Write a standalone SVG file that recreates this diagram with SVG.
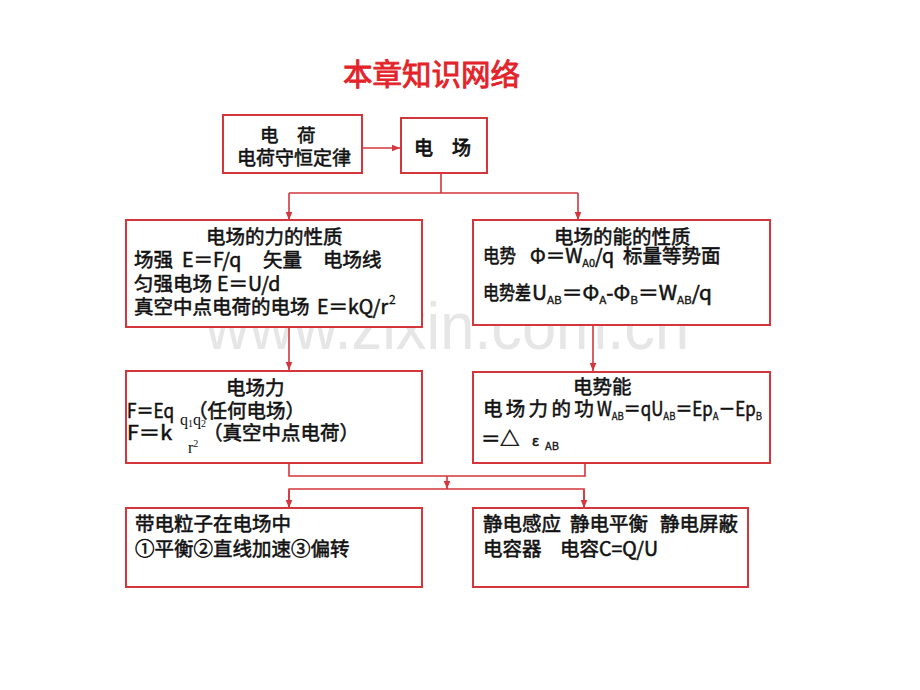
<svg xmlns="http://www.w3.org/2000/svg" width="920" height="690" viewBox="0 0 920 690">
<style>
.box{fill:#ffffff;stroke:#d4363b;stroke-width:2}
.ln{fill:none;stroke:#d4363b;stroke-width:1.6}
.t{font-family:"Noto Sans CJK SC","Noto Sans",sans-serif;font-size:19.5px;fill:#111111;stroke:#111111;stroke-width:0.55}
.sub{font-size:11px;stroke-width:0.3}
.ser{font-family:"Liberation Serif",serif;font-size:16px;fill:#111111}
.title{font-family:"Noto Sans CJK SC",sans-serif;font-size:29.5px;fill:#e3232a;stroke:#e3232a;stroke-width:0.9}
.wm{font-family:"Liberation Sans",Arial,sans-serif;font-size:66px;fill:#e6e6e6}
</style>
<defs>
<marker id="ah" markerUnits="userSpaceOnUse" markerWidth="9" markerHeight="9" viewBox="0 0 9 9" refX="8.5" refY="4.5" orient="auto">
<path d="M0,1 L8.5,4.5 L0,8 Z" fill="#d4363b"/>
</marker>
</defs>
<rect width="920" height="690" fill="#ffffff"/>
<text class="wm" x="205" y="349" textLength="484" lengthAdjust="spacingAndGlyphs">www.zixin.com.cn</text>
<text class="title" x="343" y="85">本章知识网络</text>

<g id="connectors">
<path class="ln" d="M362,148 H400" marker-end="url(#ah)"/>
<path class="ln" d="M441,173 V193 M289,193 H578"/>
<path class="ln" d="M289,193 V220" marker-end="url(#ah)"/>
<path class="ln" d="M578,193 V220" marker-end="url(#ah)"/>
<path class="ln" d="M289,327 V370" marker-end="url(#ah)"/>
<path class="ln" d="M593,325 V371" marker-end="url(#ah)"/>
<path class="ln" d="M289,463 V476 H585 V463"/>
<path class="ln" d="M447,476 V489" marker-end="url(#ah)"/>
<path class="ln" d="M289,508 V489 H584 V508"/>
<path class="ln" d="M289,490 V508" marker-end="url(#ah)"/>
<path class="ln" d="M584,490 V508" marker-end="url(#ah)"/>
</g>

<g id="charge">
<rect class="box" x="223" y="115" width="139" height="58"/>
<text class="t" x="260" y="142" style="font-size:18.5px">电　荷</text>
<text class="t" x="237" y="165" style="font-size:19px">电荷守恒定律</text>
</g>

<g id="field">
<rect class="box" x="401" y="118" width="86" height="55"/>
<text class="t" x="414" y="155" style="font-size:19px;stroke-width:0.8">电　场</text>
</g>

<g id="force-property">
<rect class="box" x="126" y="220" width="296" height="107"/>
<text class="t" x="206" y="244">电场的力的性质</text>
<text class="t" y="267"><tspan x="134">场强</tspan><tspan x="182">E＝F/q</tspan><tspan x="263">矢量</tspan><tspan x="323">电场线</tspan></text>
<text class="t" y="291"><tspan x="134">匀强电场</tspan><tspan x="217">E＝U/d</tspan></text>
<text class="t" y="314"><tspan x="134">真空中点电荷的电场</tspan><tspan x="317">E＝kQ/r</tspan><tspan x="389" y="304" style="font-size:12px;stroke-width:0.3">2</tspan></text>
</g>

<g id="energy-property">
<rect class="box" x="473" y="220" width="297" height="105"/>
<text class="t" x="554" y="244">电场的能的性质</text>
<text class="t" x="483" y="263" textLength="33" lengthAdjust="spacingAndGlyphs">电势</text>
<text class="t" y="263"><tspan x="530">Φ＝W</tspan><tspan class="sub" dy="4">A0</tspan><tspan dy="-4">/q</tspan><tspan x="623">标量等势面</tspan></text>
<text class="t" x="483" y="300" textLength="48" lengthAdjust="spacingAndGlyphs">电势差</text>
<text class="t" x="532" y="300" textLength="180" lengthAdjust="spacingAndGlyphs">U<tspan class="sub" dy="4">AB</tspan><tspan dy="-4">＝Φ</tspan><tspan class="sub" dy="4">A</tspan><tspan dy="-4">-Φ</tspan><tspan class="sub" dy="4">B</tspan><tspan dy="-4">＝W</tspan><tspan class="sub" dy="4">AB</tspan><tspan dy="-4">/q</tspan></text>
</g>

<g id="electric-force">
<rect class="box" x="126" y="371" width="296" height="92"/>
<text class="t" x="226" y="395">电场力</text>
<text class="t" x="127" y="418" textLength="47" lengthAdjust="spacingAndGlyphs">F＝Eq</text>
<text class="t" x="188" y="418">（任何电场）</text>
<text class="t" x="127" y="440" textLength="45" lengthAdjust="spacingAndGlyphs">F＝k</text>
<text class="t" x="203" y="440">（真空中点电荷）</text>
<text class="ser" x="180" y="425">q<tspan font-size="10" dy="2">1</tspan><tspan dy="-2">q</tspan><tspan font-size="10" dy="2">2</tspan></text>
<text class="ser" x="188" y="453">r<tspan font-size="10" dy="-6">2</tspan></text>
</g>

<g id="potential-energy">
<rect class="box" x="473" y="372" width="297" height="91"/>
<text class="t" x="573" y="394">电势能</text>
<text class="t" x="483" y="416" letter-spacing="3.3">电场力的功</text>
<text class="t" x="597" y="416" textLength="165" lengthAdjust="spacingAndGlyphs">W<tspan class="sub" dy="4">AB</tspan><tspan dy="-4">＝qU</tspan><tspan class="sub" dy="4">AB</tspan><tspan dy="-4">＝Ep</tspan><tspan class="sub" dy="4">A</tspan><tspan dy="-4">－Ep</tspan><tspan class="sub" dy="4">B</tspan></text>
<text class="t" y="446"><tspan x="481">＝</tspan><tspan x="500">△</tspan><tspan x="532" style="font-size:14px">ε</tspan><tspan class="sub" x="545" y="450">AB</tspan></text>
</g>

<g id="charged-particle">
<rect class="box" x="126" y="508" width="296" height="79"/>
<text class="t" x="135" y="531">带电粒子在电场中</text>
<text class="t" x="135" y="556">①平衡②直线加速③偏转</text>
</g>

<g id="electrostatics">
<rect class="box" x="473" y="508" width="275" height="79"/>
<text class="t" y="531"><tspan x="483">静电感应</tspan><tspan x="570">静电平衡</tspan><tspan x="660">静电屏蔽</tspan></text>
<text class="t" y="556"><tspan x="483">电容器</tspan><tspan x="560">电容C=Q/U</tspan></text>
</g>
</svg>
